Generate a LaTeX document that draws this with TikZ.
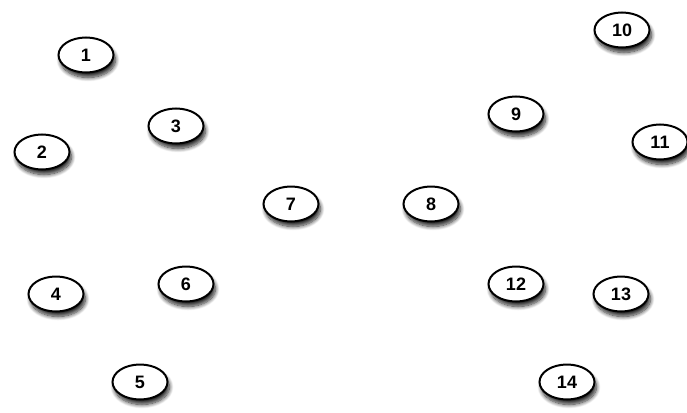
\documentclass[tikz,border=0pt]{standalone}
\usepackage{fontspec}
\setmainfont{Liberation Sans}
\usetikzlibrary{shapes.geometric, shadows.blur}
\tikzset{
  % vertex style
  vertex/.style={ellipse, draw=black, line width=2pt, fill=white, minimum width=55pt, minimum height=35pt, inner sep=0pt, font=\fontsize{18}{18}\selectfont\bfseries, blur shadow={shadow xshift=2pt, shadow yshift=-5pt, shadow blur radius=4pt, shadow blur steps=10, shadow opacity=85}},
}
\begin{document}
\begin{tikzpicture}[x=1pt, y=-1pt]
    \useasboundingbox (0,0) rectangle (687,412);
    % Vertices
    \node[vertex] (v1) at (86,55) {1};
    \node[vertex] (v2) at (42,152) {2};
    \node[vertex] (v3) at (176,126) {3};
    \node[vertex] (v4) at (56,294) {4};
    \node[vertex] (v5) at (140,382) {5};
    \node[vertex] (v6) at (186,284) {6};
    \node[vertex] (v7) at (291,204) {7};
    \node[vertex] (v8) at (431,204) {8};
    \node[vertex] (v9) at (516,114) {9};
    \node[vertex] (v10) at (622,30) {10};
    \node[vertex] (v11) at (660,142) {11};
    \node[vertex] (v12) at (516,284) {12};
    \node[vertex] (v13) at (621,294) {13};
    \node[vertex] (v14) at (567,382) {14};
\end{tikzpicture}
\end{document}
